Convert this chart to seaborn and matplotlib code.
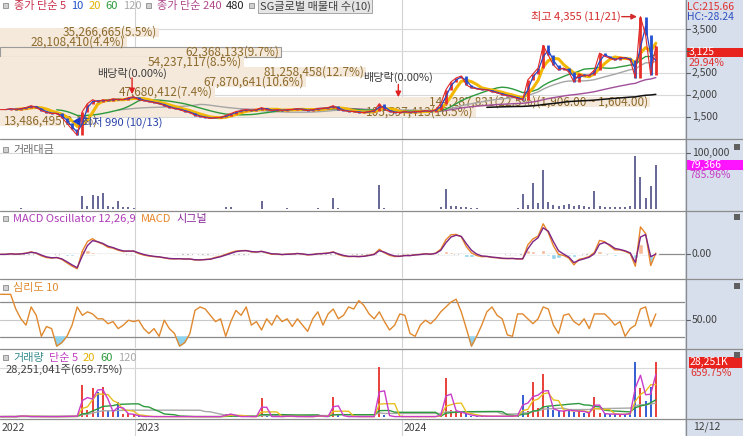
import numpy as np
import pandas as pd
import matplotlib
matplotlib.use("Agg")
import matplotlib.pyplot as plt
import matplotlib.dates as mdates
from matplotlib.patches import Rectangle
from matplotlib.lines import Line2D
import seaborn as sns

# ------------------------------------------------------------------ data
first_week = "2022-07-01"            # weekly samples
close = [1659, 1659, 1682, 1660, 1682, 1705, 1750, 1705, 1636, 1591,
         1568, 1570, 1477, 1341, 1205, 1068, 1614, 1795, 1886, 1841,
         1886, 1864, 1909, 1886, 1890, 1932, 1955, 1886, 1864, 1841,
         1818, 1795, 1750, 1705, 1682, 1659, 1614, 1591, 1523, 1500,
         1477, 1455, 1477, 1480, 1523, 1568, 1614, 1636, 1659, 1636,
         1659, 1705, 1659, 1636, 1659, 1636, 1659, 1661, 1682, 1659,
         1636, 1659, 1682, 1684, 1705, 1750, 1659, 1636, 1614, 1616,
         1591, 1593, 1614, 1636, 1795, 1659, 1614, 1591, 1593, 1614,
         1591, 1614, 1616, 1636, 1614, 1659, 1795, 2114, 2295, 2386,
         2432, 2227, 2159, 2136, 2114, 2116, 2068, 2045, 2000, 1977,
         1955, 1909, 1886, 2341, 2477, 2614, 3136, 2909, 2682, 2568,
         2614, 2523, 2295, 2477, 2432, 2455, 2568, 2955, 2886, 2841,
         2795, 2864, 2841, 2795, 2386, 3795, 3364, 2455, 3125]

trade_value = [300, 400, 300, 300, 900, 300, 300, 400, 300, 300,
               300, 300, 400, 300, 500, 600, 24000, 6000, 25000, 24000,
               29000, 5000, 4000, 15000, 3000, 3500, 2000, 500, 400, 300,
               300, 300, 300, 300, 300, 300, 300, 300, 300, 300,
               300, 300, 300, 300, 3000, 3000, 400, 300, 300, 300,
               300, 15000, 500, 300, 300, 300, 1000, 300, 300, 300,
               300, 300, 1500, 300, 400, 19000, 2000, 300, 300, 300,
               300, 300, 300, 300, 42000, 2000, 300, 300, 300, 300,
               300, 300, 300, 300, 300, 400, 3000, 36000, 6000, 5000,
               3000, 3000, 1000, 1000, 800, 800, 800, 800, 800, 800,
               800, 2000, 27000, 8000, 46000, 10000, 69000, 12000, 8000, 6000,
               7000, 9000, 6000, 8000, 5000, 4000, 32000, 5000, 4000, 4000,
               4000, 3000, 4000, 5000, 95000, 58000, 20000, 41000, 79366]

volume_k = [200, 250, 200, 200, 700, 200, 200, 250, 200, 200,
            200, 200, 300, 250, 400, 500, 16437, 3500, 14896, 12841,
            15409, 3000, 2500, 7705, 1500, 1800, 1000, 300, 250, 200,
            200, 200, 200, 200, 200, 200, 200, 200, 200, 200,
            200, 200, 200, 200, 1500, 1500, 250, 200, 200, 200,
            200, 9759, 300, 200, 200, 200, 600, 200, 200, 200,
            200, 200, 800, 200, 250, 10273, 1200, 200, 200, 200,
            200, 200, 200, 200, 25682, 1200, 200, 200, 200, 200,
            200, 200, 200, 200, 200, 250, 1500, 20032, 3500, 3000,
            2000, 1500, 500, 500, 400, 400, 400, 400, 400, 400,
            400, 1000, 11300, 3000, 17978, 4500, 22087, 5000, 3500, 3000,
            3000, 4000, 2500, 3500, 2200, 1800, 10273, 2000, 1500, 1500,
            1500, 1200, 1500, 2000, 28000, 14896, 8000, 15409, 28251]

# 심리도 10 (psychological line)
psych = [86, 86, 86, 65, 51, 42, 68, 56, 26, 40,
         37, 12, 17, 26, 42, 68, 56, 61, 58, 51,
         51, 44, 47, 37, 42, 49, 47, 49, 37, 30,
         37, 26, 49, 37, 30, 12, 17, 30, 63, 68,
         65, 56, 47, 51, 26, 47, 63, 56, 68, 42,
         47, 35, 51, 42, 56, 47, 51, 40, 51, 42,
         33, 51, 61, 42, 58, 65, 51, 56, 68, 65,
         77, 70, 58, 51, 61, 47, 35, 42, 58, 56,
         30, 26, 42, 49, 44, 51, 61, 68, 75, 79,
         61, 37, 12, 26, 42, 61, 68, 56, 51, 28,
         26, 58, 58, 51, 44, 51, 68, 65, 42, 30,
         56, 58, 47, 42, 51, 37, 58, 58, 58, 51,
         42, 47, 26, 37, 42, 65, 68, 40, 58]

# volume-by-price profile (SG글로벌 매물대 수(10))
profile_low = [3318, 3091, 2864, 2636, 2409, 2182, 1955, 1727, 1500, 1273]
profile_high = [3545, 3318, 3091, 2864, 2636, 2409, 2182, 1955, 1727, 1500]
profile_vol = [35266665, 28108410, 62368133, 54237117, 81258458,
               67870641, 47680412, 144287831, 105597413, 13486495]

price_ticks = [3500, 3000, 2500, 2000, 1500]
price_tick_labels = ["3,500", "", "2,500", "2,000", "1,500"]   # 3,000 sits under the price box
year_labels = ["2022", "2023", "2024"]
year_starts = ["2022-06-30", "2023-01-01", "2024-01-01"]
dividend_dates = ["2022-12-28", "2023-12-27"]
low_date, high_date = "2022-10-13", "2024-11-21"

# ------------------------------------------------------------------ setup
sns.set_theme(style="white")
plt.rcParams["font.family"] = ["Noto Sans CJK KR", "DejaVu Sans"]
plt.rcParams["axes.unicode_minus"] = False

W, H = 743, 436
XR = 685
fig = plt.figure(figsize=(W / 100, H / 100), dpi=100)
fig.patch.set_facecolor("white")

dates = pd.date_range(first_week, periods=len(close), freq="7D")
df = pd.DataFrame({"date": dates, "close": close, "value": trade_value,
                   "volume": volume_k, "psy": psych})
s = df["close"].astype(float)
for w, name in [(1, "ma5"), (2, "ma10"), (4, "ma20"), (12, "ma60"),
                (24, "ma120"), (48, "ma240"), (96, "ma480")]:
    df[name] = s.rolling(w).mean()
vol = df["volume"].astype(float)
for w, name in [(2, "v5"), (4, "v20"), (12, "v60"), (24, "v120")]:
    df[name] = vol.rolling(w, min_periods=1).mean()

ema_f = s.ewm(span=12 / 5, adjust=False).mean()
ema_s = s.ewm(span=26 / 5, adjust=False).mean()
df["macd"] = ema_f - ema_s
df["signal"] = df["macd"].ewm(span=9 / 5, adjust=False).mean()
df["osc"] = df["macd"] - df["signal"]

ref = pd.Timestamp("2023-01-01")
x0 = ref - pd.Timedelta(days=135 * 365 / 267)
x1 = ref + pd.Timedelta(days=(XR - 135) * 365 / 267)

RIGHT_BG = "#D7DFEC"
fig.patches.append(Rectangle((XR / W, 0), 1 - XR / W, 1, transform=fig.transFigure,
                             facecolor=RIGHT_BG, edgecolor="none", zorder=-5))


def fig_rect(x, y, w, h, **kw):
    fig.patches.append(Rectangle((x / W, 1 - (y + h) / H), w / W, h / H,
                                 transform=fig.transFigure, **kw))


def ftext(x, y, txt, **kw):
    kw.setdefault("fontsize", 7.5)
    kw.setdefault("va", "center")
    return fig.text(x / W, 1 - y / H, txt, **kw)


def hline(y, x_a=0, x_b=W, color="#8C8C8C", lw=0.9):
    fig.add_artist(Line2D([x_a / W, x_b / W], [1 - y / H, 1 - y / H],
                          transform=fig.transFigure, color=color, lw=lw))


def panel(ytop, ybot, ylim):
    ax = fig.add_axes([0, 1 - ybot / H, XR / W, (ybot - ytop) / H])
    ax.set_facecolor("white")
    ax.set_xlim(x0, x1)
    ax.set_ylim(*ylim)
    for d in year_starts[1:]:
        ax.axvline(pd.Timestamp(d), color="#D2D2D2", lw=0.8, zorder=0)
    return ax


def finish(ax, ylim):
    ax.set_xlim(x0, x1)
    ax.set_ylim(*ylim)
    ax.set_xticks([])
    ax.set_yticks([])
    ax.set_xlabel("")
    ax.set_ylabel("")
    for sp in ax.spines.values():
        sp.set_visible(False)


def ypx(ax, v):
    return H - ax.transData.transform((mdates.date2num(x0), v))[1]


def rtick(ax, v, label, color="#404040"):
    y = ypx(ax, v)
    hline(y, XR + 1, XR + 5, color="#606060", lw=0.8)
    if label:
        ftext(XR + 7, y, label, color=color, fontsize=7.5)


def rainbow(x, y, pieces, size=8):
    r = fig.canvas.get_renderer()
    for p in pieces:
        if p[0] is None:
            fig_rect(x, y - 3, 5, 5, facecolor="#D0D0D0", edgecolor="#8A8A8A", lw=0.6)
            x += 5 + p[1]
            continue
        kw = {}
        if len(p) > 3:
            kw["bbox"] = p[3]
        t = ftext(x, y, p[0], color=p[1], fontsize=size, ha="left", **kw)
        x += t.get_window_extent(renderer=r).width + p[2]


# ------------------------------------------------------------------ price
P_LIM = (983, 4178)
axp = panel(0, 139, P_LIM)
for v in price_ticks:
    axp.axhline(v, color="#D8D8D8", lw=0.8, zorder=0)

pv = np.array(profile_vol, dtype=float)
frac = pv / pv.max() * 650 / XR
total = pv.sum()
lo = np.array(profile_low, float)
hi = np.array(profile_high, float)
ytr = axp.get_yaxis_transform()
for i in range(len(pv)):
    axp.add_patch(Rectangle((0, lo[i]), frac[i], hi[i] - lo[i], transform=ytr,
                            facecolor="#F5E9DB",
                            edgecolor="#9A9A9A" if i == 2 else "none",
                            lw=0.8, zorder=0.5))
    lab = f"{int(pv[i]):,}({pv[i] / total * 100:.1f}%)"
    if i == int(np.argmax(pv)):
        lab += "(1,906.00 ~ 1,604.00)"
    mid = (lo[i] + hi[i]) / 2
    if frac[i] * XR < 100:
        axp.text(4 / XR, mid, lab, transform=ytr, ha="left", va="center",
                 fontsize=8.5, color="#8C6A2C", zorder=1)
    else:
        axp.text(frac[i] - 2 / XR, mid, lab, transform=ytr, ha="right", va="center",
                 fontsize=8.5, color="#8C6A2C", zorder=1)

ma_style = [("ma480", "#111111", 1.1), ("ma240", "#A0509A", 1.0),
            ("ma120", "#A5A5A5", 1.0), ("ma60", "#2E9A3E", 1.0),
            ("ma20", "#F2B705", 2.2)]
for col, c, lw in ma_style:
    sns.lineplot(data=df, x="date", y=col, ax=axp, color=c, linewidth=lw,
                 legend=False, zorder=2)

prev = s.shift(1).fillna(s.iloc[0])
cols = np.where(s >= prev, "#E8302A", "#2450D0")
axp.vlines(df["date"], prev, s, colors=cols, linewidth=2.0, zorder=3)
sns.lineplot(data=df, x="date", y="ma10", ax=axp, color="#2848C8", linewidth=0.9,
             legend=False, zorder=3)
sns.lineplot(data=df, x="date", y="ma5", ax=axp, color="#E02828", linewidth=0.8,
             legend=False, zorder=3)

for d, tip_off, txt_off in [(dividend_dates[0], 2, 24), (dividend_dates[1], 11, 35)]:
    dd = pd.Timestamp(d)
    v = float(np.interp(mdates.date2num(dd), mdates.date2num(df["date"]), s))
    axp.annotate("", xy=(dd, v), xytext=(0, (tip_off + 17) * 0.72),
                 textcoords="offset points",
                 arrowprops=dict(arrowstyle="-|>", color="#E02020", lw=1.0,
                                 mutation_scale=8, shrinkA=0, shrinkB=tip_off * 0.72 * 1.39),
                 zorder=5)
    axp.annotate("배당락(0.00%)", xy=(dd, v), xytext=(0, txt_off * 0.72),
                 textcoords="offset points", ha="center", va="center",
                 fontsize=8, color="#404040", zorder=5)

hd = pd.Timestamp(high_date)
axp.annotate("최고 4,355 (11/21)", xy=(hd, max(close)), xytext=(-19 * 0.72, 0),
             textcoords="offset points", ha="right", va="center",
             fontsize=8, color="#D42A2A", zorder=6)
axp.annotate("", xy=(hd, max(close)), xytext=(-18 * 0.72, 0), textcoords="offset points",
             arrowprops=dict(arrowstyle="-|>", color="#D42A2A", lw=1.0, mutation_scale=8,
                             shrinkA=0, shrinkB=2), zorder=6)
ld = pd.Timestamp(low_date)
axp.annotate("◀", xy=(ld, min(close)), xytext=(0, 13 * 0.72), textcoords="offset points",
             ha="center", va="center", fontsize=7, color="#1E3CC8", zorder=6)
axp.annotate("최저 990 (10/13)", xy=(ld, min(close)), xytext=(6 * 0.72, 13 * 0.72),
             textcoords="offset points", ha="left", va="center",
             fontsize=8, color="#2840A8", zorder=6)
finish(axp, P_LIM)

# ------------------------------------------------------------------ trade value
V_LIM = (-1786, 123214)
axv = panel(140, 210, V_LIM)
axv.axhline(100000, color="#D8D8D8", lw=0.8, zorder=0)
axv.vlines(df["date"], 0, df["value"], colors="#5B5B8E", linewidth=1.3)
finish(axv, V_LIM)

# ------------------------------------------------------------------ MACD
k = df["macd"].max() / 31.0
M_LIM = (-24 * k, 44 * k)
axm = panel(211, 278, M_LIM)
axm.axhline(0, color="#8C8C8C", lw=0.9, zorder=1)
osc_cols = np.where(df["osc"] >= 0, "#F6B895", "#8FD3EE")
axm.bar(df["date"], df["osc"], width=6, color=osc_cols, zorder=1)
sns.lineplot(data=df, x="date", y="macd", ax=axm, color="#E8862A", linewidth=1.0,
             legend=False, zorder=3)
sns.lineplot(data=df, x="date", y="signal", ax=axm, color="#7E2484", linewidth=1.0,
             legend=False, zorder=3)
finish(axm, M_LIM)

# ------------------------------------------------------------------ psychological line
S_LIM = (9.3, 107.9)
axs = panel(279, 348, S_LIM)
axs.axhline(75, color="#8A8A8A", lw=0.9, zorder=1)
axs.axhline(25, color="#8A8A8A", lw=0.9, zorder=1)
axs.axhline(50, color="#C8C8C8", lw=0.8, zorder=1)
axs.fill_between(df["date"], df["psy"], 25, where=df["psy"] < 25, interpolate=True,
                 color="#8ED3EE", zorder=1)
sns.lineplot(data=df, x="date", y="psy", ax=axs, color="#E0892E", linewidth=1.0,
             legend=False, zorder=3)
finish(axs, S_LIM)

# ------------------------------------------------------------------ volume
Q_LIM = (-514, 34929)
axq = panel(349, 418, Q_LIM)
axq.axhline(25000, color="#D8D8D8", lw=0.8, zorder=0)
axq.vlines(df["date"], 0, df["volume"], colors=cols, linewidth=1.3, zorder=2)
for col, c in [("v120", "#A8A8A8"), ("v60", "#2E9A3E"), ("v20", "#E8C020"),
               ("v5", "#C83CC8")]:
    sns.lineplot(data=df, x="date", y=col, ax=axq, color=c, linewidth=1.0,
                 legend=False, zorder=3)
finish(axq, Q_LIM)

# ------------------------------------------------------------------ date strip
axx = panel(419, 436, (0, 1))
for lab, d in zip(year_labels, year_starts):
    axx.text(pd.Timestamp(d) + pd.Timedelta(days=2), 0.5, lab, ha="left", va="center",
             fontsize=7.5, color="#404040")
finish(axx, (0, 1))
ftext(693, 427, "12/12", color="#404040", ha="left")

# ------------------------------------------------------------------ frames
for y in [139.5, 210.5, 278.5, 348.5, 418.5]:
    hline(y)
fig.add_artist(Line2D([(XR + 0.5) / W] * 2, [0, 1], transform=fig.transFigure,
                      color="#8C8C8C", lw=0.9))

# ------------------------------------------------------------------ right axis texts
ftext(687, 7, "LC:215.66", color="#E03030", ha="left")
ftext(687, 17, "HC:-28.24", color="#3050C0", ha="left")
for v, lab in zip(price_ticks, price_tick_labels):
    rtick(axp, v, lab)
yb = ypx(axp, close[-1]) + 6.5
fig_rect(687, yb - 4.5, 56, 9.5, facecolor="#E8231E", edgecolor="none")
ftext(689, yb, f"{close[-1]:,}", color="white", ha="left")
ftext(689, yb + 10.5, "29.94%", color="#E03030", ha="left")

rtick(axv, 100000, "100,000")
yb = ypx(axv, trade_value[-1])
fig_rect(687, yb - 5, 56, 10, facecolor="#FF14FF", edgecolor="none")
ftext(689, yb, f"{trade_value[-1]:,}", color="white", ha="left")
ftext(689, yb + 10.5, "785.96%", color="#C83CC8", ha="left")

rtick(axm, 0, "0.00")
rtick(axs, 50, "50.00")

yb = ypx(axq, volume_k[-1])
fig_rect(689, yb - 5, 53, 10.5, facecolor="#E8231E", edgecolor="none")
ftext(690, yb, f"{volume_k[-1]:,}K", color="white", ha="left")
ftext(690, yb + 11, "659.75%", color="#E03030", ha="left")

for y in [147, 217, 286, 355]:
    fig_rect(734, y - 3, 6, 6, facecolor="#606060", edgecolor="none")

# ------------------------------------------------------------------ legends
rainbow(3, 6, [(None, 6), ("종가 단순 5", "#C8304A", 5), ("10", "#1E50C8", 5),
               ("20", "#E2B200", 5), ("60", "#2A9A3A", 5), ("120", "#A8A8A8", 4),
               (None, 6), ("종가 단순 240", "#B0488C", 5), ("480", "#202020", 4),
               (None, 6),
               ("SG글로벌 매물대 수(10)", "#404040", 4,
                dict(boxstyle="square,pad=0.15", facecolor="#E6E6E6",
                     edgecolor="#9A9A9A", lw=0.6))])
rainbow(3, 150, [(None, 5), ("거래대금", "#707070", 4)])
rainbow(3, 219, [(None, 5), ("MACD Oscillator 12,26,9", "#B03AB8", 5),
                 ("MACD", "#E8862A", 5), ("시그널", "#8A2A9A", 4)])
rainbow(3, 288, [(None, 5), ("심리도 10", "#E08A30", 4)])
rainbow(3, 358, [(None, 5), ("거래량", "#3C8C8C", 5), ("단순 5", "#C040C0", 5),
                 ("20", "#E2B200", 5), ("60", "#2A9A3A", 5), ("120", "#A8A8A8", 4)])
ftext(6, 370, "28,251,041주(659.75%)", color="#404040", ha="left", fontsize=8)

fig.savefig("out.png", dpi=100, facecolor="white")
